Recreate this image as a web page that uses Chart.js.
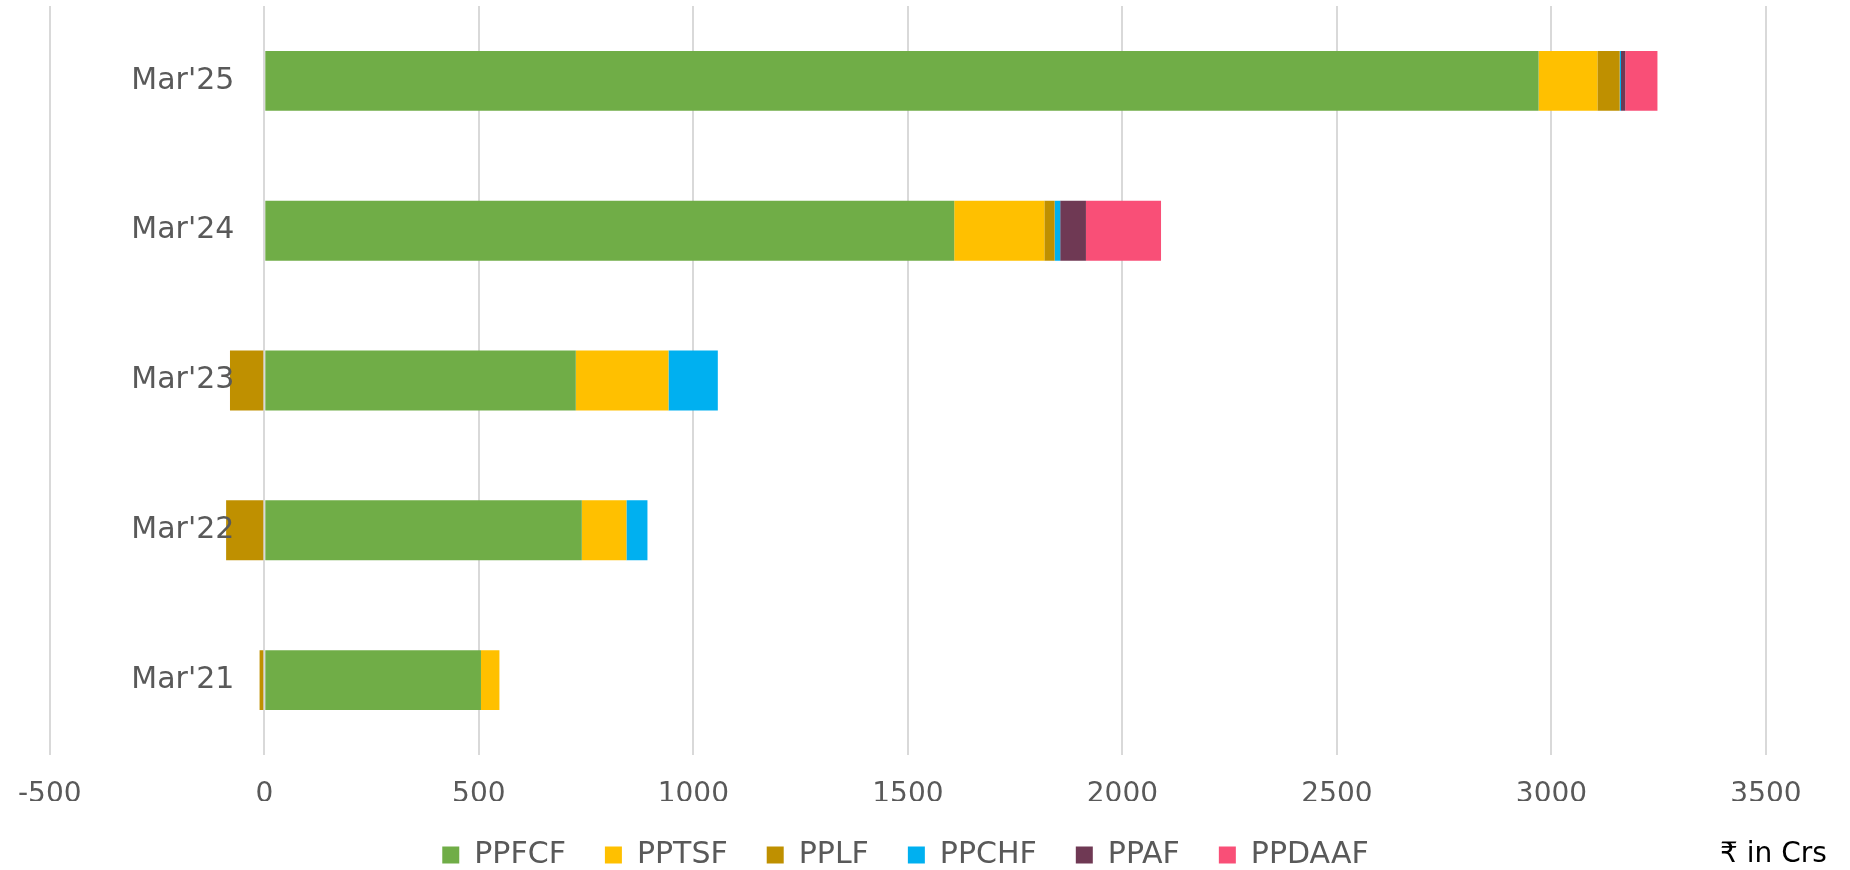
<!DOCTYPE html>
<html>
<head>
<meta charset="utf-8">
<script src="https://cdn.jsdelivr.net/npm/chart.js@4"></script>
<style>
  html, body { margin: 0; padding: 0; background: #fff; }
  #wrap { position: relative; width: 1850px; height: 870px; }
  #unit {
    position: absolute; left: 1720px; top: 833px; line-height: 40px;
    font-family: "DejaVu Sans", sans-serif; font-size: 28px; color: #000; white-space: nowrap;
  }
</style>
</head>
<body>
<div id="wrap">
  <canvas id="myChart"></canvas>
  <div id="unit">₹ in Crs</div>
</div>
<script>
// values in Rs crore
const labels = ["Mar'21", "Mar'22", "Mar'23", "Mar'24", "Mar'25"];
const ppfcf  = [505, 740, 726, 1608, 2970];
const pptsf  = [43, 104, 216, 210, 137];
const pplf   = [-11, -89, -80, 24, 52];
const ppchf  = [0, 49, 115, 13, 3];
const ppaf   = [0, 0, 0, 60, 10];
const ppdaaf = [0, 0, 0, 175, 75];
const xTicks = [-500, 0, 500, 1000, 1500, 2000, 2500, 3000, 3500];

const grey = '#595959';
const font = '"DejaVu Sans", sans-serif';

// category labels sit just left of the zero line, on top of the bars
const zeroLabels = {
    id: 'zeroLabels',
    afterDatasetsDraw(chart) {
        const c = chart.ctx;
        const xs = chart.scales.x;
        const ys = chart.scales.y;
        const x0 = xs.getPixelForValue(0) - 30;
        c.save();
        c.font = '30px ' + font;
        c.fillStyle = grey;
        c.textAlign = 'right';
        c.textBaseline = 'middle';
        labels.forEach((lab, i) => {
            c.fillText(lab, x0, ys.getPixelForValue(i));
        });
        c.restore();
    }
};

const ctx = document.getElementById('myChart');

new Chart(ctx, {
    type: 'bar',
    data: {
        labels: labels,
        datasets: [
            { label: 'PPFCF',  data: ppfcf,  backgroundColor: '#70AD47' },
            { label: 'PPTSF',  data: pptsf,  backgroundColor: '#FFC000' },
            { label: 'PPLF',   data: pplf,   backgroundColor: '#BF9000' },
            { label: 'PPCHF',  data: ppchf,  backgroundColor: '#00B0F0' },
            { label: 'PPAF',   data: ppaf,   backgroundColor: '#6F3954' },
            { label: 'PPDAAF', data: ppdaaf, backgroundColor: '#F94F77' }
        ]
    },
    plugins: [zeroLabels],
    options: {
        indexAxis: 'y',
        responsive: true,
        maintainAspectRatio: false,
        animation: false,
        datasets: {
            bar: { categoryPercentage: 1, barPercentage: 0.4, borderWidth: 0 }
        },
        layout: {
            padding: { left: 45, right: 84, top: 6, bottom: 0 }
        },
        scales: {
            x: {
                stacked: true,
                min: -500,
                max: 3500,
                afterBuildTicks: (axis) => {
                    axis.ticks = xTicks.map(v => ({ value: v }));
                },
                afterFit: (axis) => { axis.height = 46; },
                grid: { color: '#d9d9d9', lineWidth: 2, tickLength: 5, tickColor: 'rgba(0,0,0,0)' },
                border: { display: false },
                ticks: {
                    color: grey,
                    font: { family: font, size: 28 },
                    padding: 18,
                    callback: (v) => String(v)
                }
            },
            y: {
                display: false,
                stacked: true,
                reverse: true
            }
        },
        plugins: {
            tooltip: { enabled: false },
            legend: {
                position: 'bottom',
                maxHeight: 69,
                labels: {
                    color: grey,
                    font: { family: font, size: 30 },
                    boxWidth: 17,
                    boxHeight: 17,
                    padding: 39
                }
            }
        }
    }
});
</script>
</body>
</html>
